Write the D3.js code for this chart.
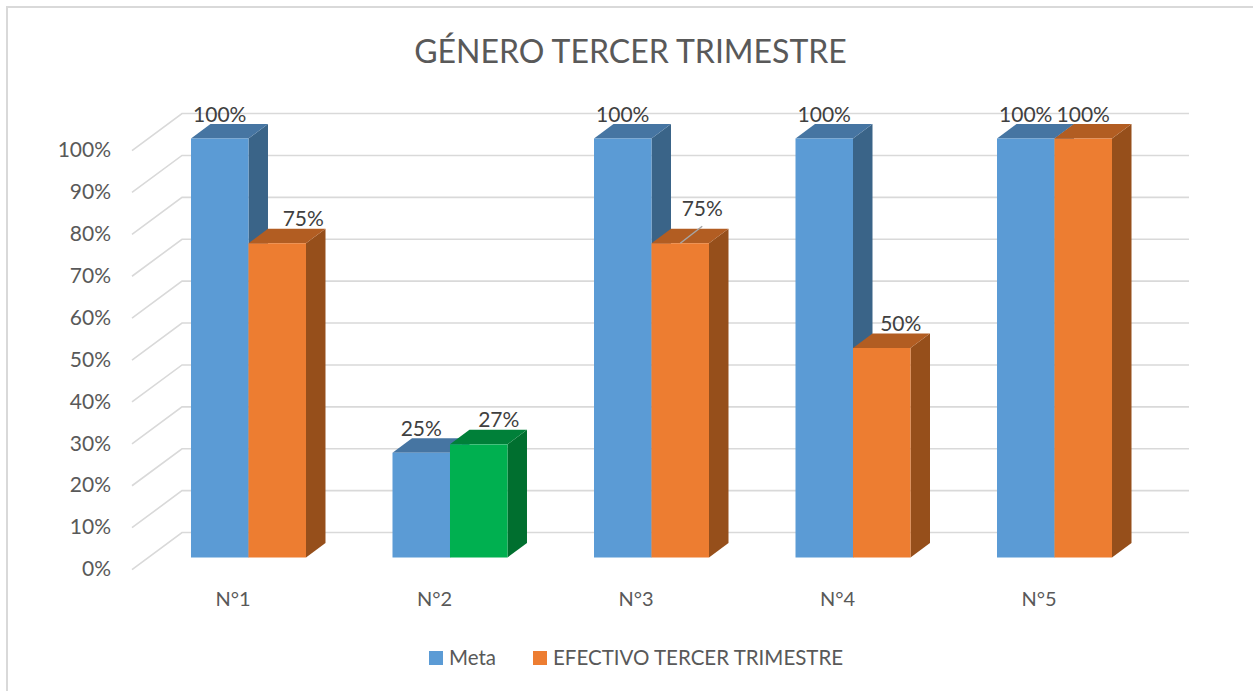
<!DOCTYPE html>
<html><head><meta charset="utf-8">
<script src="https://cdn.jsdelivr.net/npm/d3@7"></script>
<style>html,body{margin:0;padding:0;background:#fff}svg{display:block}text{font-family:Lato,Carlito,sans-serif}</style>
</head><body><svg id="c" width="1253" height="691"></svg>
<script>
const chartTitle = "GÉNERO TERCER TRIMESTRE";
const categories = ["N°1","N°2","N°3","N°4","N°5"];
const seriesNames = ["Meta","EFECTIVO TERCER TRIMESTRE"];
const meta = [100,25,100,100,100];
const efectivo = [75,27,75,50,100];
const tickValues = [0,10,20,30,40,50,60,70,80,90,100];

const palettes = {
  blue:{front:"#5B9BD5",top:"#4675A2",side:"#3A6488"},
  orange:{front:"#ED7D31",top:"#B25D22",side:"#964F1B"},
  green:{front:"#00B050",top:"#008039",side:"#006F2F"}
};
const depth = {x:19.5,y:-14.5};
const wall = {x:-50,y:37};
const svg = d3.select("#c");

// only the top and left edges of the chart frame are in view
svg.append("path").attr("d","M7,691L7,7L1253,7").attr("fill","none")
  .attr("stroke","#D9D9D9").attr("stroke-width",2);

const x = d3.scaleBand().domain(categories).range([147.75,1155.25]).paddingInner(0.4293).paddingOuter(0.2146);
const y = d3.scaleLinear().domain([0,100]).range([557.5,138.5]);
const yBack = v => y(v)+depth.y*1.72;
const inner = d3.scaleBand().domain(seriesNames).range([0,x.bandwidth()]);
const gridRight = 1189, gridLeft = 182;

// gridlines on the back wall and side wall
const grid = svg.append("g").attr("fill","none").attr("stroke","#D9D9D9").attr("stroke-width",1.6);
tickValues.forEach(v=>{
  const b = yBack(v);
  grid.append("path").attr("d",`M${gridLeft+wall.x},${b+wall.y}L${gridLeft},${b}L${gridRight},${b}`);
});

// axis labels
const yAxisScale = d3.scaleLinear().domain([0,100]).range([yBack(0)+wall.y-0.5,yBack(100)+wall.y-0.5]);
const axisG = svg.append("g").attr("transform","translate(111,0)")
  .call(d3.axisLeft(yAxisScale).tickValues(tickValues).tickSize(0).tickPadding(0).tickFormat(d=>d+"%"));
axisG.select(".domain").remove();
axisG.selectAll("text").style("font-family","Lato,Carlito,sans-serif").style("font-size","21px").attr("fill","#595959");

// bars
function bar(px,w,v,p){
  const t=y(v),b=y(0),g=svg.append("g");
  const dx=depth.x,dy=depth.y;
  g.append("path").attr("fill",p.side).attr("d",`M${px+w},${t}L${px+w+dx},${t+dy}L${px+w+dx},${b+dy}L${px+w},${b}Z`);
  g.append("path").attr("fill",p.top).attr("d",`M${px},${t}L${px+dx},${t+dy}L${px+w+dx},${t+dy}L${px+w},${t}Z`);
  g.append("rect").attr("x",px).attr("y",t).attr("width",w).attr("height",b-t).attr("fill",p.front);
}
const label = (cx,by,s)=>svg.append("text").attr("x",cx).attr("y",by).attr("text-anchor","middle")
  .attr("font-size",21).attr("fill","#404040").text(s+"%");

categories.forEach((c,i)=>{
  const gx=x(c),w=inner.bandwidth();
  bar(gx+inner(seriesNames[0]),w,meta[i],palettes.blue);
  bar(gx+inner(seriesNames[1]),w,efectivo[i],c==="N°2"?palettes.green:palettes.orange);
});

// data labels drawn last (placement nudges per category, efectivo series)
const efectivoNudge = {"N°1":[26,0],"N°2":[20,0],"N°3":[22,-10],"N°4":[19,0],"N°5":[0,0]};
categories.forEach((c,i)=>{
  const gx=x(c),w=inner.bandwidth();
  const mx=gx+inner(seriesNames[0])+w/2, ex=gx+inner(seriesNames[1])+w/2;
  const n=efectivoNudge[c];
  label(mx,y(meta[i])-16.5,meta[i]);
  label(ex+n[0],y(efectivo[i])-17+n[1],efectivo[i]);
  if(c==="N°3"){
    svg.append("line").attr("x1",ex).attr("y1",y(efectivo[i])).attr("x2",ex+n[0]).attr("y2",y(efectivo[i])+depth.y-2.5)
      .attr("stroke","#A6A6A6").attr("stroke-width",1.5);
  }
});

// category labels
svg.append("g").selectAll("text").data(categories).join("text")
  .attr("x",c=>x(c)+x.bandwidth()/2-15.5).attr("y",605.5).attr("text-anchor","middle")
  .attr("font-size",20).attr("fill","#595959").text(c=>c);

// title
svg.append("text").attr("x",630.5).attr("y",63).attr("text-anchor","middle")
  .attr("font-size",32).attr("fill","#595959").text(chartTitle);

// legend
const lg=svg.append("g");
const legendCols=[palettes.blue.front,palettes.orange.front];
const legendX=d3.scaleOrdinal().domain(seriesNames).range([429,533]);
seriesNames.forEach((s,i)=>{
  lg.append("rect").attr("x",legendX(s)).attr("y",651).attr("width",14).attr("height",14).attr("fill",legendCols[i]);
  lg.append("text").attr("x",legendX(s)+20).attr("y",665).attr("font-size",20.5).attr("fill","#595959").text(s);
});
</script></body></html>
